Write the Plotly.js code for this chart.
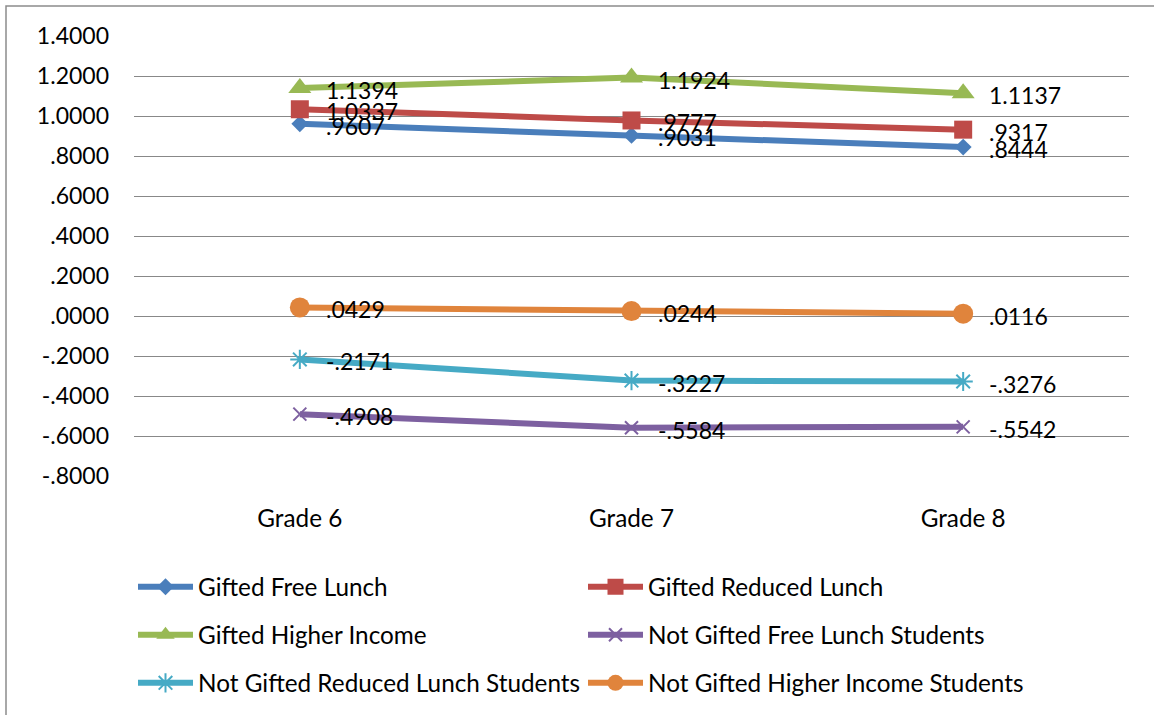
<!DOCTYPE html>
<html>
<head>
<meta charset="utf-8">
<script src="https://cdn.plot.ly/plotly-3.0.1.min.js"></script>
<style>html,body{margin:0;padding:0;background:#fff;}#chart{width:1154px;height:715px;}</style>
</head>
<body>
<div id="chart"></div>
<script>
// ---- data ----
const categories = ["Grade 6", "Grade 7", "Grade 8"];
const seriesNames = [
  "Gifted Free Lunch",
  "Gifted Reduced Lunch",
  "Gifted Higher Income",
  "Not Gifted Free Lunch Students",
  "Not Gifted Reduced Lunch Students",
  "Not Gifted Higher Income Students"
];
const giftedFreeLunch = [0.9607, 0.9031, 0.8444];
const giftedReducedLunch = [1.0337, 0.9777, 0.9317];
const giftedHigherIncome = [1.1394, 1.1924, 1.1137];
const notGiftedFreeLunch = [-0.4908, -0.5584, -0.5542];
const notGiftedReducedLunch = [-0.2171, -0.3227, -0.3276];
const notGiftedHigherIncome = [0.0429, 0.0244, 0.0116];
const yTickVals = [1.4, 1.2, 1.0, 0.8, 0.6, 0.4, 0.2, 0.0, -0.2, -0.4, -0.6, -0.8];
const yTickText = ["1.4000", "1.2000", "1.0000", ".8000", ".6000", ".4000", ".2000", ".0000", "-.2000", "-.4000", "-.6000", "-.8000"];

// ---- styles ----
const FONT = "Lato, 'Open Sans', sans-serif";
const FS = 23;
const FS_TEXT = 24.3;
const seriesValues = [giftedFreeLunch, giftedReducedLunch, giftedHigherIncome,
  notGiftedFreeLunch, notGiftedReducedLunch, notGiftedHigherIncome];
const colors = ["#4A7EBB", "#BE4B48", "#98B954", "#7D60A0", "#46AAC5", "#E0843C"];
const markers = [
  {symbol: "diamond", size: 13},
  {symbol: "square", size: 18},
  {symbol: "triangle-up", size: 20},
  {symbol: "x-thin-open", size: 13, line: {width: 2}},
  {symbol: "asterisk-open", size: 16, line: {width: 2}},
  {symbol: "circle", size: 20}
];
const fmt = v => v.toFixed(4).replace(/^(-?)0\./, "$1.");

// plot area pixels
const L = 134, R = 25, T = 36, B = 239, W = 1154, H = 715;
const pw = W - L - R, ph = H - T - B;
const px = x => (x - L) / pw;
const py = y => (H - B - y) / ph;
const cx = x => x / W;
const cy = y => 1 - y / H;

const legendRowsY = [587, 635, 683];
const legendColsX = [133, 583];

const traces = [];
const annotations = [];
const layout = {
  width: W, height: H,
  margin: {l: L, r: R, t: T, b: B},
  paper_bgcolor: "#fff", plot_bgcolor: "#fff",
  font: {family: FONT, size: FS, color: "#000"},
  xaxis: {
    type: "category", range: [-0.5, 2.5], showgrid: false, zeroline: false,
    showline: false, ticks: "", ticklabelstandoff: 26,
    tickfont: {family: FONT, size: FS_TEXT, color: "#000"}, fixedrange: true
  },
  yaxis: {
    range: [-0.8, 1.4], tickvals: yTickVals, ticktext: yTickText,
    showgrid: true, gridcolor: "#888888", gridwidth: 1, zeroline: false,
    showline: false, ticks: "", ticklabelstandoff: 24,
    tickfont: {family: FONT, size: FS, color: "#000"}, fixedrange: true
  },
  shapes: [{
    type: "rect", xref: "paper", yref: "paper",
    x0: px(6), x1: px(1170), y0: py(730), y1: py(6),
    line: {color: "#8c8c8c", width: 1.5}, layer: "below"
  }],
  annotations: annotations,
  showlegend: true
};

seriesValues.forEach((vals, i) => {
  const legendId = i === 0 ? "legend" : "legend" + (i + 1);
  traces.push({
    type: "scatter", mode: "lines+markers",
    x: categories, y: vals, name: seriesNames[i],
    line: {color: colors[i], width: 6},
    marker: Object.assign({color: colors[i]}, markers[i]),
    legend: legendId, cliponaxis: false
  });
  const row = Math.floor(i / 2), col = i % 2;
  layout[legendId] = {
    xref: "container", yref: "container",
    x: cx(legendColsX[col]), y: cy(legendRowsY[row]),
    xanchor: "left", yanchor: "middle", orientation: "h",
    bgcolor: "rgba(0,0,0,0)", borderwidth: 0, itemwidth: 55,
    font: {family: FONT, size: FS_TEXT, color: "#000"}
  };
  vals.forEach((v, j) => {
    annotations.push({
      x: categories[j], y: v, xref: "x", yref: "y",
      text: fmt(v), showarrow: false, xanchor: "left", yanchor: "middle",
      xshift: 24, yshift: -2,
      font: {family: FONT, size: FS, color: "#000"}
    });
  });
});

Plotly.newPlot("chart", traces, layout, {displayModeBar: false, staticPlot: true});
</script>
</body>
</html>
